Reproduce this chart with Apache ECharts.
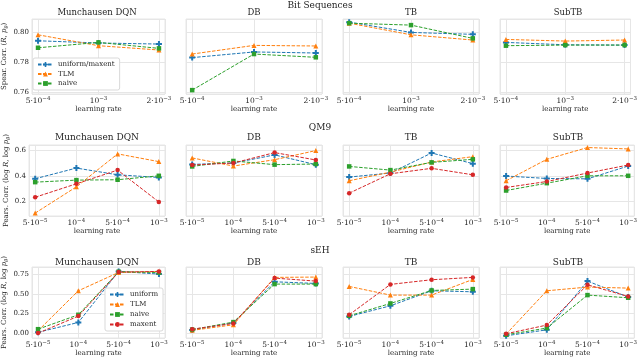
<!DOCTYPE html>
<html>
<head>
<meta charset="utf-8">
<script src="https://cdn.jsdelivr.net/npm/echarts@6/dist/echarts.min.js"></script>
<style>
  html, body { margin: 0; background: #fff; }
  #chart { width: 640px; height: 359px; }
</style>
</head>
<body>
<div id="chart"></div>
<script>
const methods = ['Munchausen DQN', 'DB', 'TB', 'SubTB']
const bitLr = ['5·10^−4', '10^−3', '2·10^−3']
const lr = ['5·10^−5', '10^−4', '5·10^−4', '10^−3']

// Bit Sequences (one row per method, columns follow bitLr)
const bitUniform = [[0.7944, 0.7929, 0.7922], [0.7831, 0.7869, 0.7862], [0.8069, 0.8000, 0.7987], [0.7933, 0.7917, 0.7915]]
const bitTlm = [[0.7984, 0.7911, 0.7882], [0.7855, 0.7913, 0.7909], [0.8062, 0.7984, 0.7949], [0.7953, 0.7942, 0.7949]]
const bitNaive = [[0.7897, 0.7933, 0.7893], [0.7613, 0.7855, 0.7833], [0.8062, 0.8049, 0.7960], [0.7911, 0.7915, 0.7915]]

// QM9 (columns follow lr)
const qmUniform = [[0.378, 0.462, 0.409, 0.388], [0.491, 0.502, 0.566, 0.489], [0.391, 0.423, 0.581, 0.497], [0.399, 0.380, 0.377, 0.478]]
const qmTlm = [[0.107, 0.314, 0.574, 0.513], [0.542, 0.478, 0.528, 0.600], [0.362, 0.430, 0.510, 0.552], [0.362, 0.531, 0.624, 0.613]]
const qmNaive = [[0.351, 0.367, 0.370, 0.401], [0.475, 0.518, 0.489, 0.494], [0.475, 0.446, 0.507, 0.531], [0.285, 0.343, 0.401, 0.401]]
const qmMaxent = [[0.232, 0.338, 0.446, 0.195], [0.486, 0.502, 0.584, 0.526], [0.264, 0.417, 0.460, 0.409], [0.309, 0.356, 0.423, 0.486]]

// sEH
const sehUniform = [[0.01, 0.136, 0.784, 0.750], [0.040, 0.130, 0.652, 0.631], [0.212, 0.347, 0.538, 0.525], [-0.034, 0.042, 0.661, 0.458]]
const sehTlm = [[0.030, 0.538, 0.771, 0.780], [0.035, 0.106, 0.708, 0.712], [0.593, 0.483, 0.483, 0.682], [-0.013, 0.538, 0.585, 0.572]]
const sehNaive = [[0.050, 0.233, 0.780, 0.770], [0.045, 0.140, 0.623, 0.623], [0.220, 0.377, 0.542, 0.559], [-0.021, 0.064, 0.483, 0.449]]
const sehMaxent = [[0.000, 0.216, 0.775, 0.784], [0.050, 0.123, 0.699, 0.661], [0.233, 0.619, 0.678, 0.708], [-0.008, 0.102, 0.614, 0.466]]

const font = 'DejaVu Serif'
const ink = '#262626'
const gridColor = '#e6e6e6'
const plus = 'path://M1,0H2V1H3V2H2V3H1V2H0V1H1Z'

const styles = {
  'uniform/maxent': { color: '#1f77b4', symbol: plus, size: 6 },
  uniform: { color: '#1f77b4', symbol: plus, size: 6 },
  TLM: { color: '#ff7f0e', symbol: 'triangle', size: 5 },
  naive: { color: '#2ca02c', symbol: 'rect', size: 4.5 },
  maxent: { color: '#d62728', symbol: 'circle', size: 4.5 }
}

const spearName = '{t|Spear. Corr. (}{i|R}{t|, }{i|p}{s|θ}{t|)}'
const pearsName = '{t|Pears. Corr. (log }{i|R}{t|, log }{i|p}{s|θ}{t|)}'

const rows = [
  {
    title: 'Bit Sequences', supY: 6, subY: 13, subSize: 8.5, top: 19, height: 75,
    min: 0.7587, max: 0.809, step: 0.02, digits: 2, labels: bitLr, yName: spearName,
    series: [['uniform/maxent', bitUniform], ['TLM', bitTlm], ['naive', bitNaive]]
  },
  {
    title: 'QM9', supY: 128, subY: 138, subSize: 9, top: 145, height: 71,
    min: 0.084, max: 0.644, step: 0.2, digits: 1, labels: lr, yName: pearsName,
    series: [['uniform', qmUniform], ['TLM', qmTlm], ['naive', qmNaive], ['maxent', qmMaxent]]
  },
  {
    title: 'sEH', supY: 251, subY: 263, subSize: 9, top: 267, height: 71,
    min: -0.062, max: 0.84, step: 0.25, digits: 2, labels: lr, yName: pearsName,
    series: [['uniform', sehUniform], ['TLM', sehTlm], ['naive', sehNaive], ['maxent', sehMaxent]]
  }
]

const colLeft = [29, 186, 343, 500]
const colWidth = 136

const chart = echarts.init(document.getElementById('chart'))

const titles = []
const grids = []
const xAxes = []
const yAxes = []
const series = []

const tickLabel = (text) => {
  const [base, exp] = text.split('^')
  return '{b|' + base + '}{s|' + exp + '}'
}

rows.forEach((row, r) => {
  titles.push({
    text: row.title, left: 320, top: row.supY, textAlign: 'center', textVerticalAlign: 'middle', padding: 0,
    textStyle: { fontFamily: font, fontSize: 9, fontWeight: 'normal', color: ink }
  })
  const n = row.labels.length
  methods.forEach((m, c) => {
    const idx = grids.length
    titles.push({
      text: m, left: colLeft[c] + colWidth / 2, top: row.subY, textAlign: 'center', textVerticalAlign: 'middle', padding: 0,
      textStyle: { fontFamily: font, fontSize: row.subSize, fontWeight: 'normal', color: ink }
    })
    grids.push({
      left: colLeft[c], top: row.top, width: colWidth, height: row.height,
      show: true, borderColor: gridColor, borderWidth: 1, backgroundColor: '#fff'
    })
    xAxes.push({
      gridIndex: idx, type: 'value',
      min: -0.05 * (n - 1), max: 1.05 * (n - 1), minInterval: 1, maxInterval: 1,
      axisLine: { show: false }, axisTick: { show: false },
      splitLine: { show: true, lineStyle: { color: gridColor, width: 1 } },
      axisLabel: {
        margin: 2, fontFamily: font, fontSize: 7.5, color: ink,
        formatter: v => Math.abs(v - Math.round(v)) < 1e-6 ? tickLabel(row.labels[Math.round(v)]) : '',
        rich: {
          b: { fontFamily: font, fontSize: 7.5, color: ink },
          s: { fontFamily: font, fontSize: 5.5, color: ink, padding: [0, 0, 4, 0] }
        }
      },
      name: 'learning rate', nameLocation: 'middle', nameGap: 12,
      nameTextStyle: { fontFamily: font, fontSize: 7, color: ink }
    })
    yAxes.push({
      gridIndex: idx, type: 'value', min: row.min, max: row.max,
      minInterval: row.step, maxInterval: row.step,
      axisLine: { show: false }, axisTick: { show: false },
      splitLine: { show: true, lineStyle: { color: gridColor, width: 1 } },
      axisLabel: {
        show: c === 0, margin: 3, fontFamily: font, fontSize: 7, color: ink,
        formatter: v => Math.abs(v / row.step - Math.round(v / row.step)) < 1e-6 ? v.toFixed(row.digits) : ''
      },
      name: c === 0 ? row.yName : '', nameLocation: 'middle', nameGap: 14,
      nameTextStyle: {
        fontFamily: font, fontSize: 7, color: ink,
        rich: {
          t: { fontFamily: font, fontSize: 7, color: ink, lineHeight: 10 },
          i: { fontFamily: font, fontSize: 7, color: ink, fontStyle: 'italic', lineHeight: 10 },
          s: { fontFamily: font, fontSize: 5, color: ink, fontStyle: 'italic', verticalAlign: 'bottom', lineHeight: 10 }
        }
      }
    })
    row.series.forEach(([name, values], k) => {
      const st = styles[name]
      series.push({
        type: 'line', name, xAxisIndex: idx, yAxisIndex: idx,
        data: values[c].map((v, i) => [i, v]),
        symbol: st.symbol, symbolSize: st.size,
        lineStyle: { color: st.color, width: 1, type: [3.5, 1.5] },
        itemStyle: { color: st.color },
        z: 2 + k, emphasis: { disabled: true }
      })
    })
  })
})

const legendBase = {
  orient: 'vertical', itemWidth: 15, itemHeight: 6, selectedMode: false,
  backgroundColor: '#fff', borderColor: '#d9d9d9', borderWidth: 1, borderRadius: 2,
  textStyle: { fontFamily: font, fontSize: 7, color: ink }
}

chart.setOption({
  animation: false,
  backgroundColor: '#fff',
  title: titles,
  legend: [
    Object.assign({}, legendBase, { data: ['uniform/maxent', 'TLM', 'naive'], left: 33, top: 58, itemGap: 2.5, padding: [3, 5, 3, 4] }),
    Object.assign({}, legendBase, { data: ['uniform', 'TLM', 'naive', 'maxent'], left: 105, top: 288, itemGap: 3, padding: [3, 5, 3, 4] })
  ],
  grid: grids,
  xAxis: xAxes,
  yAxis: yAxes,
  series
})
</script>
</body>
</html>
